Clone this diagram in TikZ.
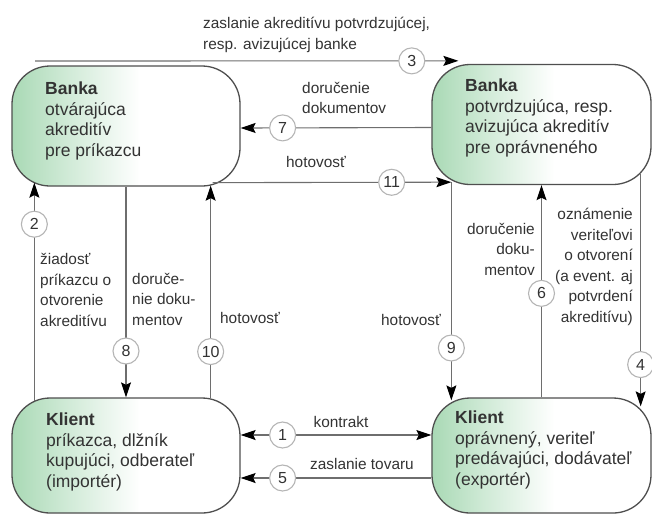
\documentclass[tikz,border=0pt]{standalone}
\usepackage{fontspec}
\setmainfont{Liberation Sans}
\usetikzlibrary{arrows.meta,calc}
\definecolor{AkrGreen}{HTML}{A9D9B5}
\definecolor{AkrLine}{HTML}{6E6E6E}
\definecolor{AkrBorder}{HTML}{4F4F4F}
\definecolor{AkrText}{HTML}{333333}
\definecolor{AkrRing}{HTML}{B5B5B5}
\pgfdeclarehorizontalshading{akrfade}{100bp}{color(0bp)=(AkrGreen); color(25bp)=(AkrGreen);
  color(37bp)=(AkrGreen!55!white); color(53bp)=(white); color(100bp)=(white)}
\tikzset{
  partybox/.style={draw=AkrBorder, line width=1.3pt, rounded corners=38pt, shade, shading=akrfade,
                   minimum width=#1, minimum height=120pt, inner sep=0pt},
  partytext/.style={font=\fontsize{17.5}{20.5}\selectfont, align=left, text=AkrText, inner sep=0pt},
  lbl/.style={font=\fontsize{15.4}{20.5}\selectfont, text=AkrText, inner sep=0pt},
  num/.style={circle, draw=AkrRing, line width=1.1pt, fill=white, minimum size=26pt, inner sep=0pt,
              font=\fontsize{16}{16}\selectfont, text=AkrText},
  conn/.style={draw=AkrLine, line width=1.1pt, -{Stealth[length=15pt,width=10pt,inset=2.5pt,color=black]}},
  biconn/.style={draw=AkrLine, line width=1.1pt,
                 {Stealth[length=15pt,width=10pt,inset=2.5pt,color=black]}-{Stealth[length=15pt,width=10pt,inset=2.5pt,color=black]}},
}
\begin{document}
\begin{tikzpicture}[x=1pt, y=-1pt]
  \useasboundingbox (0,0) rectangle (652,515);

  % the four parties
  \node[partybox=228pt] (bankL) at (126,126) {};
  \node[partybox=219pt] (bankR) at (541.5,124.5) {};
  \node[partybox=228pt, minimum height=115pt] (clientL) at (126,455.5) {};
  \node[partybox=219pt, minimum height=115pt] (clientR) at (541.5,455.5) {};

  \node[partytext, anchor=west] (bankLtxt) at (45,121) {\textbf{Banka}\\otvárajúca\\akreditív\\pre príkazcu};
  \node[partytext, anchor=west] (bankRtxt) at (465,118) {\textbf{Banka}\\potvrdzujúca, resp.\\avizujúca akreditív\\pre oprávneného};
  \node[partytext, anchor=west] (clientLtxt) at (46,452) {\textbf{Klient}\\príkazca, dlžník\\kupujúci, odberateľ\\(importér)};
  \node[partytext, anchor=west] (clientRtxt) at (455,450) {\textbf{Klient}\\oprávnený, veriteľ\\predávajúci, dodávateľ\\(exportér)};

  % free ends
  \coordinate (start3) at (35,61);
  \coordinate (brfoot) at ($(bankR.south west)+(20,-3)$);

  % flows between the banks
  \draw[conn] (start3) -- node[num, pos=0.89] {3} ($(bankR.north west)+(27,-3)$);
  \draw[conn] ($(bankR.west)+(0,3)$) -- node[num, pos=0.78] {7} ($(bankL.east)+(0,2)$);
  \draw[conn] ($(bankL.south east)+(-28,-4)$) -- node[num, pos=0.75] {11} (brfoot);

  % flows on the left side
  \draw[conn] ($(clientL.north west)+(23,4)$) -- node[num, pos=0.81] {2} ($(bankL.south west)+(23,-4)$);
  \draw[conn] (bankL.south) -- node[num, pos=0.78] {8} (clientL.north);
  \draw[conn] ($(clientL.north east)+(-30,1)$) -- node[num, pos=0.22] {10} ($(bankL.south east)+(-30,-1)$);

  % flows on the right side
  \draw[conn] (brfoot) -- node[num, pos=0.76] {9} ($(clientR.north west)+(20,3)$);
  \draw[conn] (clientR.north) -- node[num, pos=0.49] {6} (bankR.south);
  \draw[conn] ($(bankR.south east)+(-11,-11)$) -- node[num, pos=0.82] {4} ($(clientR.north east)+(-11,9)$);

  % flows between the clients
  \draw[biconn] ($(clientR.west)+(0,-20.5)$) -- node[num, pos=0.78] {1} ($(clientL.east)+(0,-20.5)$);
  \draw[conn] ($(clientR.west)+(0,22.5)$) -- node[num, pos=0.78] {5} ($(clientL.east)+(0,22.5)$);

  % labels
  \node[lbl, anchor=west, align=left] (lbl3) at (203,35) {zaslanie akreditívu potvrdzujúcej,\\resp. avizujúcej banke};
  \node[lbl, anchor=west, align=left] (lbl7) at (302,98) {doručenie\\dokumentov};
  \node[lbl] (lbl11) at (316,162) {hotovosť};
  \node[lbl, anchor=west, align=left] (lbl2) at (40,290) {žiadosť\\príkazcu o\\otvorenie\\akreditívu};
  \node[lbl, anchor=west, align=left] (lbl8) at (132,299) {doruče-\\nie doku-\\mentov};
  \node[lbl] (lbl10) at (250,318) {hotovosť};
  \node[lbl] (lbl9) at (411,320) {hotovosť};
  \node[lbl, anchor=east, align=right] (lbl6) at (535,249) {doručenie\\doku-\\mentov};
  \node[lbl, anchor=east, align=right] (lbl4) at (633,267) {oznámenie\\veriteľovi\\o otvorení\\(a event. aj\\potvrdení\\akreditívu)};
  \node[lbl] (lbl1) at (341,422) {kontrakt};
  \node[lbl] (lbl5) at (362,464) {zaslanie tovaru};
\end{tikzpicture}
\end{document}
